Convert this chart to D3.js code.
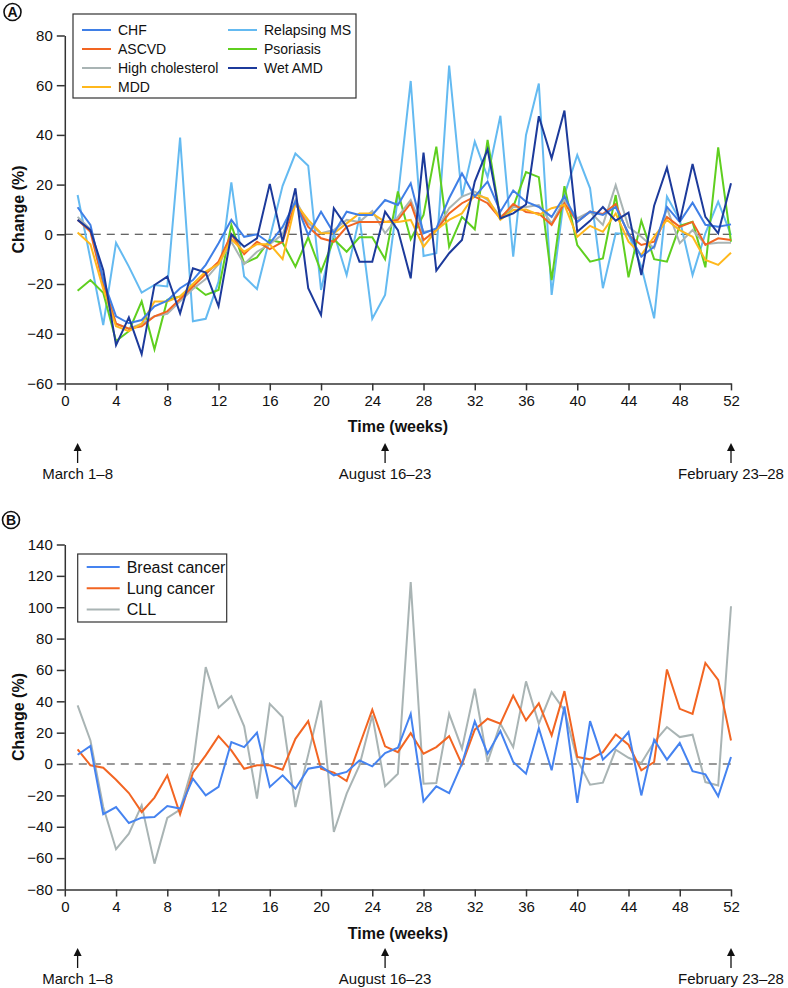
<!DOCTYPE html>
<html>
<head>
<meta charset="utf-8">
<script src="https://cdn.jsdelivr.net/npm/d3@7"></script>
<style>
  body { margin: 0; background: #fff; }
  svg text { font-family: "Liberation Sans", Arial, sans-serif; fill: #111; }
  .axis path, .axis line { stroke: #333; stroke-width: 1.5; }
  .axis text { font-size: 15px; }
  .series { fill: none; stroke-width: 2; stroke-linejoin: miter; }
</style>
</head>
<body>
<script>
// weeks on the x axis
var weeks = d3.range(1, 53);
var xTicks = d3.range(0, 53, 4);

// panel A
var seriesA = ["CHF", "ASCVD", "High cholesterol", "MDD", "Relapsing MS", "Psoriasis", "Wet AMD"];
var chf = [10.9, 3.8, -18.4, -33, -35.8, -34.5, -29, -26.7, -21.7, -18.4, -12.3, -3.6, 5.8, -1, 0, -3.6, 3,
  13.1, -0.3, 9.1, 0.4, 9.1, 7.8, 7.8, 13.8, 11.8, 20.5, 0.4, 2.4, 14.5, 24.5, 15.2, 21.2, 9.1, 17.6, 13.1,
  11, 7, 15.4, 5, 9.1, 7.8, 11, 0.4, -9, -5, 11, 5, 12.7, 3.8, 3, 4];
var ascvd = [5.8, 1, -20, -36, -38, -37, -33, -31, -26, -21, -16, -11, 0, -8, -3, -6, -3,
  12.5, 3, -1.6, -3, 3, 5, 5, 5, 5.8, 12.5, -2.3, 1.7, 8.4, 12.5, 15.2, 12.5, 6.4, 12.2, 9,
  8.4, 3.8, 12.5, 5, 9.1, 8.2, 12.2, -0.3, -4.3, -3, 7, 3, 5, -4.3, -1.6, -2.3];
var cholesterol = [7, 2, -18, -36, -38, -36, -33, -32, -27, -22, -18, -12, -3, -12, -7, -4, 0,
  13.8, 4.4, 0.4, 1.7, 5.8, 5, 9.4, 0.4, 7, 13.8, 1, 1.7, 10.5, 15.2, 17.2, 13.8, 7, 11, 11,
  11.8, 4.4, 13.8, 6.4, 9.1, 3.8, 19.8, 3, -1, -5.6, 10.5, -3.6, 1.7, -4, -3.4, -3.4];
var mdd = [0.7, -4, -22, -37, -39, -36, -27, -27, -25, -20, -15, -12, -2, -7, -4, -4, -10,
  12.5, 5.8, 0.4, 0.4, 4.4, 8.4, 8.4, 5, 5, 5.8, -5, 1.7, 5.8, 8.4, 16, 14.5, 5.8, 9.8, 10,
  7.8, 10.5, 11.8, -1, 3.4, 1, 8.4, -3, -8.3, -1, 5.8, 1.7, -1, -10.3, -12.3, -7.4];
var relapsingMs = [15.8, -10, -36.5, -3.4, -13, -23.5, -20.4, -21, 38.9, -35, -34, -19, 20.9, -17, -22, -1.5, 19.5,
  32.5, 27.6, -22.4, 0.4, -16.4, 7, -34, -24.4, 15, 61.7, -8.7, -7.6, 67.9, 15, 37.3, 23, 47.7, -9, 40,
  60.7, -24.4, 15.8, 31.9, 18.5, -21.7, 0.4, 0, -13, -33.8, 15.2, 5.8, -16.4, 0.4, 13.1, -0.3];
var psoriasis = [-22.7, -18.4, -23.5, -43, -39, -27, -46.3, -26.4, -25, -20.4, -24.4, -22.4, 3.8, -11.7, -9.3, -2.3, -3.4,
  -13, -1.2, -15, -2, -7, -1.2, -1.2, -10, 17.2, -2, 7.8, 35.3, -5, 7, 2, 38, 6.4, 11, 25,
  23, -18.4, 19.4, -4.3, -11, -9.7, 15.8, -17.3, 5.5, -10, -11, 3.4, 5, -13.3, 35, -3];
var wetAmd = [5.8, 1.7, -14.4, -44.6, -33.4, -48.2, -20.4, -17, -31.8, -13.7, -15.4, -29, 0, -5, -1.6, 20.3, -3,
  18.5, -21.7, -32.5, 10.5, 3, -11, -11, 9.1, 1.7, -17.7, 32.9, -14.6, -7.6, -2.3, 21.2, 34.2, 6.4, 8.4, 12,
  47.5, 30.6, 49.8, 1, 5.4, 11, 5.5, 8.7, -16.4, 11.5, 26.8, 5, 28.3, 7, 0.4, 20.5];
var yTicksA = d3.range(-60, 81, 20);

// panel B
var seriesB = ["Breast cancer", "Lung cancer", "CLL"];
var breast = [5.9, 11.5, -32, -27.4, -37.6, -34.2, -33.8, -26.8, -28.4, -9.3, -20, -14.6, 14, 10.8, 20, -14.6, -7.2, -15.7,
  -3, -1.5, -7.2, -5, 2.3, -1.5, 7, 10.4, 32, -23.8, -14.2, -18.5, 0.2, 27.2, 6.6, 21, 1.3, -6.2, 22.8,
  -4, 36.7, -24.8, 27.4, 2.8, 10.8, 20.4, -20, 15.5, 2.8, 13.4, -4.5, -6.6, -20.6, 4.5];
var lung = [9.3, -0.8, -2.3, -10, -18.5, -30.6, -21.4, -7.2, -32, -5.5, 5.5, 17.8, 8.7, -3, -0.8, -0.8, -3.6, 16.1,
  27.4, -3, -5.5, -10.8, 12, 34.6, 11.3, 7.6, 19.7, 6.6, 10.8, 17.8, -0.2, 21.9, 28.9, 25.7, 43.7, 27.8, 38.7,
  18.3, 46.5, 4.5, 3, 7.6, 18.9, 12.3, -4, 1.3, 60.3, 35.2, 32, 64.5, 53.7, 15];
var cll = [37.4, 15, -27.4, -54.3, -44.4, -26.3, -63.5, -34.4, -29, -0.8, 61.8, 35.9, 43.3, 24, -22, 38.4, 30, -27.4,
  6, 40.5, -43.3, -18.9, -0.8, 31, -14.2, -6.2, 116, -12.5, -12.1, 32, 9.8, 48, 1.3, 25.7, 10.8, 52.7, 25.7,
  45.9, 34.2, 2.8, -13.2, -11.9, 9.1, 4, 0.6, 14, 23.6, 17.2, 18.7, -11.5, -13.6, 100.6];
var yTicksB = d3.range(-80, 141, 20);

var markerWeeks = [1, 25, 52];
var markerLabels = ["March 1\u20138", "August 16\u201323", "February 23\u201328"];

var colors = {
  "CHF": "#3f7fe6", "ASCVD": "#f26522", "High cholesterol": "#a9b4b4", "MDD": "#ffb81c",
  "Relapsing MS": "#64baf1", "Psoriasis": "#5fcf1f", "Wet AMD": "#1c3a9b",
  "Breast cancer": "#4583f0", "Lung cancer": "#f26522", "CLL": "#a9b4b4"
};

var svg = d3.select("body").append("svg")
  .attr("width", 788)
  .attr("height", 988);

var x = d3.scaleLinear().domain([0, 52]).range([64.8, 731]);

function drawPanel(opts) {
  var y = d3.scaleLinear().domain(opts.yDomain).range(opts.yRange);
  var g = svg.append("g");

  // panel letter
  g.append("circle").attr("cx", opts.letterX).attr("cy", opts.letterY).attr("r", 8.5)
    .attr("fill", "none").attr("stroke", "#111").attr("stroke-width", 1.6);
  g.append("text").attr("x", opts.letterX).attr("y", opts.letterY + 5)
    .attr("text-anchor", "middle").attr("font-size", 14).attr("font-weight", "bold").text(opts.letter);

  // zero line
  g.append("line")
    .attr("x1", x(0)).attr("x2", x(52))
    .attr("y1", y(0)).attr("y2", y(0))
    .attr("stroke", "#333").attr("stroke-width", 1.1).attr("stroke-dasharray", "8,6");

  g.append("g").attr("class", "axis")
    .attr("transform", "translate(" + x(0) + ",0)")
    .call(d3.axisLeft(y).tickValues(opts.yTicks).tickSize(8).tickPadding(4).tickSizeOuter(0));

  g.append("g").attr("class", "axis")
    .attr("transform", "translate(0," + y(opts.yDomain[0]) + ")")
    .call(d3.axisBottom(x).tickValues(xTicks).tickSize(7).tickPadding(5).tickSizeOuter(0));

  g.append("text")
    .attr("transform", "translate(24," + ((opts.yRange[0] + opts.yRange[1]) / 2) + ") rotate(-90)")
    .attr("text-anchor", "middle").attr("font-size", 16).attr("font-weight", "bold")
    .text("Change (%)");

  g.append("text").attr("x", (x(0) + x(52)) / 2).attr("y", opts.titleY)
    .attr("text-anchor", "middle").attr("font-size", 16).attr("font-weight", "bold")
    .text("Time (weeks)");

  var line = d3.line()
    .x(function(d, i) { return x(weeks[i]); })
    .y(function(d) { return y(d); });

  opts.order.forEach(function(name) {
    g.append("path").attr("class", "series")
      .attr("stroke", colors[name])
      .attr("d", line(opts.values[name]));
  });

  // event arrows
  markerWeeks.forEach(function(w, i) {
    var ax = x(w);
    g.append("line").attr("x1", ax).attr("x2", ax)
      .attr("y1", opts.arrowY + 6).attr("y2", opts.arrowY + 20)
      .attr("stroke", "#111").attr("stroke-width", 1.3);
    g.append("path")
      .attr("d", "M" + (ax - 4) + "," + (opts.arrowY + 8) + "L" + ax + "," + opts.arrowY + "L" + (ax + 4) + "," + (opts.arrowY + 8) + "Z")
      .attr("fill", "#111");
    g.append("text").attr("x", ax).attr("y", opts.arrowY + 36)
      .attr("text-anchor", "middle").attr("font-size", 15)
      .text(markerLabels[i]);
  });

  // legend
  var L = opts.legend;
  g.append("rect").attr("x", L.x).attr("y", L.y).attr("width", L.w).attr("height", L.h)
    .attr("fill", "#fff").attr("stroke", "#333").attr("stroke-width", 1.2);
  L.items.forEach(function(name, i) {
    var col = Math.floor(i / L.perCol), row = i % L.perCol;
    var lx = L.x + 9 + col * L.colW, ly = L.y + L.top + row * L.rowH;
    g.append("line").attr("x1", lx).attr("x2", lx + L.lineW).attr("y1", ly).attr("y2", ly)
      .attr("stroke", colors[name]).attr("stroke-width", 2);
    g.append("text").attr("x", lx + L.lineW + 7).attr("y", ly)
      .attr("dy", "0.35em").attr("font-size", L.fontSize).text(name);
  });
}

drawPanel({
  letter: "A", letterX: 12.5, letterY: 12,
  yDomain: [-60, 80], yRange: [383.4, 35.5], yTicks: yTicksA,
  titleY: 432, arrowY: 443,
  order: ["Relapsing MS", "Psoriasis", "High cholesterol", "ASCVD", "MDD", "CHF", "Wet AMD"],
  values: {
    "CHF": chf, "ASCVD": ascvd, "High cholesterol": cholesterol, "MDD": mdd,
    "Relapsing MS": relapsingMs, "Psoriasis": psoriasis, "Wet AMD": wetAmd
  },
  legend: { x: 73, y: 14, w: 283, h: 84, top: 16, rowH: 19, perCol: 4, colW: 146, lineW: 29, fontSize: 14, items: seriesA }
});

drawPanel({
  letter: "B", letterX: 11, letterY: 520,
  yDomain: [-80, 140], yRange: [889.5, 544.5], yTicks: yTicksB,
  titleY: 939, arrowY: 948,
  order: ["CLL", "Lung cancer", "Breast cancer"],
  values: { "Breast cancer": breast, "Lung cancer": lung, "CLL": cll },
  legend: { x: 77.7, y: 554, w: 149, h: 68, top: 13, rowH: 21.2, perCol: 3, colW: 0, lineW: 33, fontSize: 16, items: seriesB }
});
</script>
</body>
</html>
